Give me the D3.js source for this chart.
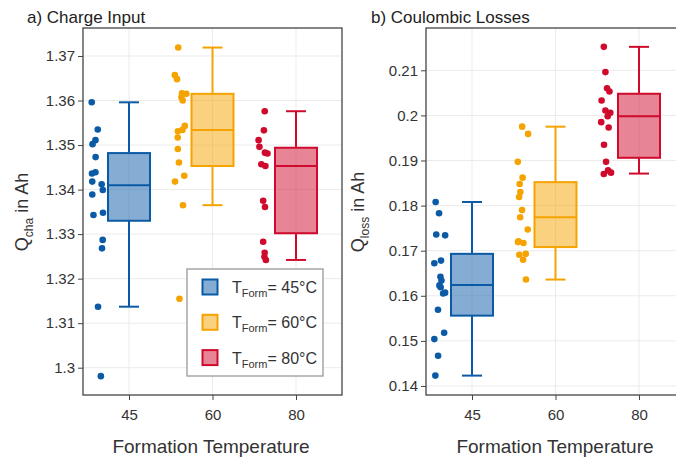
<!DOCTYPE html>
<html>
<head>
<meta charset="utf-8">
<script src="https://cdn.jsdelivr.net/npm/d3@7"></script>
<style>
  html, body { margin: 0; padding: 0; background: #fff; }
  svg { display: block; font-family: "Liberation Sans", Arial, sans-serif; }
</style>
</head>
<body>
<svg id="chart" width="676" height="457"></svg>
<script>
// Formation temperatures (°C)
const categories = ["45", "60", "80"];
const colors = ["#0b5aa6", "#f5a300", "#cf0a2c"];

// a) Charge input Q_cha in Ah, one array per formation temperature
const qcha45 = [1.3596, 1.3535, 1.3511, 1.3502, 1.3473, 1.3439, 1.3436, 1.3418, 1.3412, 1.3399, 1.3389, 1.3348, 1.3343, 1.3287, 1.3268, 1.3137, 1.2981];
const qcha60 = [1.3719, 1.3657, 1.3648, 1.3616, 1.3615, 1.3607, 1.3600, 1.3543, 1.3534, 1.3531, 1.3517, 1.3491, 1.3461, 1.3431, 1.3418, 1.3365, 1.3155];
const qcha80 = [1.3576, 1.3533, 1.3511, 1.3496, 1.3483, 1.3481, 1.3457, 1.3453, 1.3375, 1.3361, 1.3283, 1.3258, 1.3249, 1.3242];
// box summaries [whisker low, q1, median, q3, whisker high]
const qchaBox45 = [1.3137, 1.3330, 1.3410, 1.3482, 1.3596];
const qchaBox60 = [1.3365, 1.3453, 1.3534, 1.3615, 1.3719];
const qchaBox80 = [1.3242, 1.3302, 1.3453, 1.3494, 1.3576];
const qchaTicks = [1.30, 1.31, 1.32, 1.33, 1.34, 1.35, 1.36, 1.37];

// b) Coulombic losses Q_loss in Ah
const qloss45 = [0.1808, 0.1783, 0.1736, 0.1734, 0.1678, 0.1672, 0.1642, 0.1634, 0.1623, 0.1619, 0.1607, 0.1605, 0.1569, 0.1518, 0.1504, 0.1467, 0.1423];
const qloss60 = [0.1975, 0.1959, 0.1897, 0.1862, 0.1848, 0.1830, 0.1819, 0.1790, 0.1774, 0.1747, 0.1721, 0.1719, 0.1717, 0.1693, 0.1691, 0.1680, 0.1636];
const qloss80 = [0.2152, 0.2096, 0.2060, 0.2053, 0.2033, 0.2011, 0.2006, 0.1998, 0.1985, 0.1973, 0.1935, 0.1897, 0.1878, 0.1873, 0.1870];
const qlossBox45 = [0.1423, 0.1556, 0.1624, 0.1693, 0.1808];
const qlossBox60 = [0.1636, 0.1708, 0.1774, 0.1852, 0.1975];
const qlossBox80 = [0.1871, 0.1906, 0.1998, 0.2048, 0.2152];
const qlossTicks = [0.14, 0.15, 0.16, 0.17, 0.18, 0.19, 0.20, 0.21];

const legendLabels = ["= 45°C", "= 60°C", "= 80°C"];

const svg = d3.select("#chart");
const plotTop = 28, plotBottom = 395, panelW = 259;
const fmt = d3.format("~g");

function drawPanel(opt) {
  const g = svg.append("g");
  const x = d3.scalePoint().domain(categories).range([opt.left, opt.left + panelW]).padding(0.551);
  const y = d3.scaleLinear().domain(opt.domain).range([plotBottom, plotTop]);

  // grid
  const grid = g.append("g").attr("stroke", "#ebebeb").attr("stroke-width", 1);
  grid.selectAll("line.h").data(opt.ticks).join("line").attr("class", "h")
    .attr("x1", opt.left).attr("x2", opt.left + panelW)
    .attr("y1", d => y(d)).attr("y2", d => y(d));
  grid.selectAll("line.v").data(categories).join("line").attr("class", "v")
    .attr("x1", d => x(d)).attr("x2", d => x(d))
    .attr("y1", plotTop).attr("y2", plotBottom);

  // boxes
  const bw = 42, cap = 20;
  opt.boxes.forEach((b, i) => {
    const cx = x(categories[i]), c = colors[i];
    const bg = g.append("g").attr("stroke", c).attr("stroke-width", 2);
    bg.append("line").attr("x1", cx).attr("x2", cx).attr("y1", y(b[0])).attr("y2", y(b[1]));
    bg.append("line").attr("x1", cx).attr("x2", cx).attr("y1", y(b[3])).attr("y2", y(b[4]));
    bg.append("line").attr("x1", cx - cap / 2).attr("x2", cx + cap / 2).attr("y1", y(b[0])).attr("y2", y(b[0]));
    bg.append("line").attr("x1", cx - cap / 2).attr("x2", cx + cap / 2).attr("y1", y(b[4])).attr("y2", y(b[4]));
    bg.append("rect").attr("x", cx - bw / 2).attr("width", bw)
      .attr("y", y(b[3])).attr("height", y(b[1]) - y(b[3]))
      .attr("fill", c).attr("fill-opacity", 0.5);
    bg.append("line").attr("x1", cx - bw / 2).attr("x2", cx + bw / 2).attr("y1", y(b[2])).attr("y2", y(b[2]));
  });

  // jittered points, left of each box
  opt.points.forEach((pts, i) => {
    const rnd = d3.randomLcg(0.17 + i * 0.29 + opt.left * 0.001);
    const cx = x(categories[i]) - 32;
    g.append("g").selectAll("circle").data(pts).join("circle")
      .attr("cx", () => cx + (rnd() - 0.5) * 12)
      .attr("cy", d => y(d))
      .attr("r", 3.3)
      .attr("fill", colors[i]);
  });

  // frame
  g.append("rect").attr("x", opt.left).attr("y", plotTop).attr("width", panelW).attr("height", plotBottom - plotTop)
    .attr("fill", "none").attr("stroke", "#444").attr("stroke-width", 1.3);

  // y axis
  const ya = g.append("g").attr("transform", `translate(${opt.left},0)`)
    .call(d3.axisLeft(y).tickValues(opt.ticks).tickFormat(fmt).tickSize(5).tickPadding(3));
  ya.select(".domain").remove();
  ya.selectAll("line").attr("stroke", "#444");
  ya.selectAll("text").attr("font-size", 15).attr("fill", "#333").attr("font-family", null);

  // x axis
  const xa = g.append("g").attr("transform", `translate(0,${plotBottom})`)
    .call(d3.axisBottom(x).tickSize(5).tickPadding(9));
  xa.select(".domain").remove();
  xa.selectAll("line").attr("stroke", "#444");
  xa.selectAll("text").attr("font-size", 15).attr("fill", "#333").attr("font-family", null);

  // axis titles
  g.append("text").attr("x", opt.xTitleX).attr("y", 453)
    .attr("text-anchor", "middle").attr("font-size", 19).attr("fill", "#333")
    .text("Formation Temperature");

  const yt = g.append("text").attr("transform", `translate(${opt.yTitleX},212) rotate(-90)`)
    .attr("text-anchor", "middle").attr("font-size", 18).attr("fill", "#333");
  yt.append("tspan").text("Q");
  yt.append("tspan").attr("font-size", 12).attr("dy", 5).text(opt.sub);
  yt.append("tspan").attr("dy", -5).text(" in Ah");

  // panel title
  g.append("text").attr("x", opt.titleX).attr("y", 23).attr("font-size", 17).attr("fill", "#222").text(opt.title);
}

drawPanel({
  left: 83, domain: [1.29387, 1.37629], ticks: qchaTicks,
  points: [qcha45, qcha60, qcha80], boxes: [qchaBox45, qchaBox60, qchaBox80],
  sub: "cha", yTitleX: 28, title: "a) Charge Input", titleX: 27, xTitleX: 211
});
drawPanel({
  left: 426, domain: [0.13800, 0.21938], ticks: qlossTicks,
  points: [qloss45, qloss60, qloss80], boxes: [qlossBox45, qlossBox60, qlossBox80],
  sub: "loss", yTitleX: 364, title: "b) Coulombic Losses", titleX: 371, xTitleX: 555
});

// legend
const lg = svg.append("g");
lg.append("rect").attr("x", 187).attr("y", 269).attr("width", 136).attr("height", 107)
  .attr("fill", "#fff").attr("stroke", "#999").attr("stroke-width", 1.3);
const rows = lg.selectAll("g.row").data(categories).join("g")
  .attr("transform", (d, i) => `translate(0,${287 + i * 35.3})`);
rows.append("rect").attr("x", 202.5).attr("y", -7.5).attr("width", 15).attr("height", 15)
  .attr("fill", (d, i) => colors[i]).attr("fill-opacity", 0.5)
  .attr("stroke", (d, i) => colors[i]).attr("stroke-width", 2);
const lt = rows.append("text").attr("x", 232).attr("y", 6).attr("font-size", 16).attr("fill", "#333");
lt.append("tspan").text("T");
lt.append("tspan").attr("font-size", 11).attr("dy", 4).text("Form");
lt.append("tspan").attr("dy", -4).text((d, i) => legendLabels[i]);
</script>
</body>
</html>
